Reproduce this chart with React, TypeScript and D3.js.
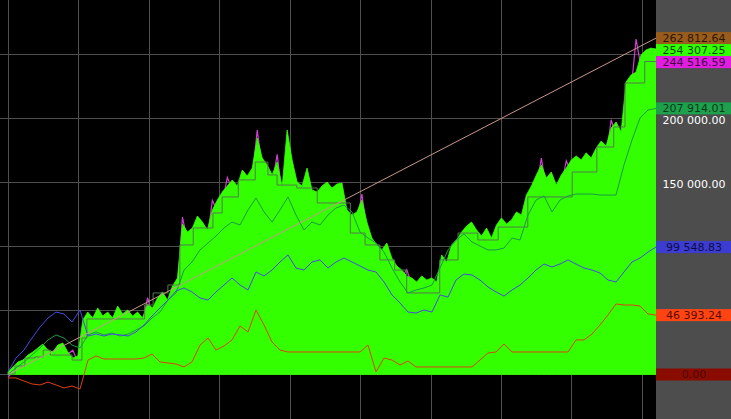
import React from 'react';
import * as d3 from 'd3';

// ---------- data ----------
const SPAN = 9.2; // time span in grid periods
const gridPeriods = [0, 1, 2, 3, 4, 5, 6, 7, 8, 9];
const valueTicks = [0, 50000, 100000, 150000, 200000, 250000];

// green equity area (uniformly spaced over the span)
const equityValues = [
  2000, 5900, 9800, 11300, 15200, 17600, 20700, 23800, 19100, 17600,
  23000, 24600, 17600, 12900, 14500, 42600, 48800, 44100, 52000, 45700,
  48800, 44100, 53500, 47300, 50400, 45700, 48800, 44100, 55100, 52000,
  59800, 64500, 58200, 69100, 75400, 117600, 111300, 114500, 123800, 119100,
  112900, 128500, 136300, 142600, 147300, 152000, 147300, 159800, 155100, 161300,
  184800, 169100, 163700, 155900, 166000, 146500, 191000, 167600, 150400, 147300,
  161300, 144100, 142600, 147300, 150400, 145700, 148800, 149600, 128500, 124600,
  127000, 136300, 119100, 106600, 101200, 97300, 102700, 91000, 84800, 81600,
  77000, 75400, 72300, 77000, 73800, 75400, 72300, 93400, 87900, 101200,
  105100, 111300, 116000, 119100, 112900, 108200, 114500, 106600, 116800, 122300,
  117600, 120700, 127000, 124600, 140200, 147300, 155900, 163700, 153500, 158200,
  148000, 155900, 161300, 167600, 170700, 167600, 173200, 169100, 176900, 182400,
  178500, 192600, 197300, 189500, 228500, 234000, 236300, 249600, 253500, 255000,
  254307.25,
];

// magenta line (mostly hidden under the green area, same spacing as equity)
const peakValues = [
  -2000, 2000, 5000, 7000, 10000, 13000, 15000, 17000, 14000, 13000,
  17000, 19000, 16000, 19000, 10000, 36000, 42000, 39000, 44000, 40000,
  42000, 39000, 45000, 41000, 43000, 40000, 42000, 40000, 60000, 46000,
  52000, 56000, 52000, 60000, 66000, 123000, 104000, 106000, 115000, 111000,
  106000, 136000, 128000, 134000, 154000, 144000, 140000, 151000, 147000, 153000,
  191000, 161000, 156000, 149000, 172000, 139000, 180000, 159000, 143000, 140000,
  153000, 137000, 135000, 140000, 143000, 138000, 141000, 141000, 121000, 118000,
  120000, 141000, 112000, 100000, 95000, 91000, 96000, 85000, 79000, 76000,
  82000, 70000, 67000, 71000, 68000, 70000, 67000, 86000, 81000, 94000,
  98000, 104000, 108000, 111000, 106000, 101000, 107000, 100000, 109000, 114000,
  110000, 113000, 119000, 117000, 131000, 138000, 146000, 169000, 144000, 149000,
  140000, 147000, 167000, 158000, 161000, 158000, 163000, 160000, 167000, 172000,
  169000, 199000, 186000, 180000, 216000, 222000, 262000, 240000, 243000, 244000,
  244516.59,
];

// stepped line: [period, value]
const stepPoints: [number, number][] = [
  [0, 400], [0.1, 6600], [0.24, 12900], [0.38, 13700], [0.5, 19100], [0.6, 15200],
  [0.91, 11300], [1.05, 28500], [1.12, 43400], [1.94, 54300], [2.06, 63700],
  [2.27, 69900], [2.44, 101200], [2.63, 114500], [2.91, 126200], [3.04, 138700],
  [3.27, 152000], [3.51, 166000], [3.69, 155900], [3.82, 148000], [4.1, 145700],
  [4.39, 134000], [4.86, 110500], [5.07, 101200], [5.28, 89500], [5.49, 81600],
  [5.66, 63700], [6.13, 89500], [6.39, 110500], [6.67, 105100], [6.96, 115200],
  [7.38, 138700], [8.01, 158200], [8.36, 177700], [8.6, 193400], [8.76, 227700],
  [9.04, 244516.59], [9.2, 244516.59],
];

// dark green line
const trendValues = [
  0, 5100, 9800, 15200, 20700, 27000, 30900, 28500, 23000, 20700,
  30900, 33200, 30900, 32400, 30100, 31600, 34800, 37900, 44100, 48800,
  58200, 63700, 81600, 87900, 97300, 102700, 108200, 114500, 119100, 116800,
  128500, 137900, 127000, 119100, 128500, 138700, 124600, 112900, 119100, 116800,
  124600, 130100, 132400, 127000, 111300, 106600, 102700, 95700, 83200, 72300,
  63700, 66000, 67600, 69900, 83200, 97300, 105100, 109800, 103500, 100400,
  97300, 97300, 98800, 106600, 105100, 124600, 136300, 139500, 127000, 136300,
  139500, 141000, 141000, 141000, 140200, 140200, 140200, 163700, 183200, 200400,
  206600, 207914.01,
];

// blue line
const blueValues = [
  2000, 12900, 19100, 28500, 37100, 44100, 48800, 47300, 41000, 50400,
  30100, 31600, 30100, 31600, 30900, 30100, 33200, 38700, 45700, 52000,
  58200, 65200, 67600, 64500, 59800, 58200, 64500, 69900, 75400, 69900,
  66000, 80100, 77000, 81600, 87900, 93400, 83200, 81600, 87900, 89500,
  83200, 87900, 91000, 87900, 84800, 81600, 80100, 72300, 62100, 55900,
  48800, 48000, 50400, 48800, 62100, 60500, 73800, 78500, 77700, 73800,
  68400, 64500, 61300, 66000, 69900, 75400, 81600, 86300, 84000, 86300,
  89500, 86300, 83200, 81600, 79300, 73800, 72300, 80100, 87900, 91000,
  95700, 99548.83,
];

// red line
const redValues = [
  -2700, -2700, -5100, -7400, -8200, -5900, -8200, -10500, -9000, -11300,
  11300, 14500, 12100, 12100, 12100, 12100, 12100, 12900, 16000, 9800,
  9000, 8200, 5900, 9800, 23000, 28500, 19100, 22300, 27000, 37900,
  33200, 50400, 38700, 25400, 19100, 17600, 17600, 17600, 17600, 17600,
  17600, 17600, 17600, 17600, 17600, 23000, 2000, 12900, 11300, 7400,
  10500, 5900, 5900, 5900, 5900, 5900, 5900, 5900, 5900, 11300,
  16800, 17600, 23800, 17600, 17600, 17600, 17600, 17600, 17600, 17600,
  17600, 27000, 27000, 31600, 38700, 46500, 55100, 54300, 54300, 53500,
  47300, 46393.24,
];

// straight reference line: start and end value
const diagonalValues = [0, 262812.64];
const baselineValue = 0;

// ---------- styles ----------
const BG = '#000000';
const GRID = '#4f4f4f';
const PANEL = '#4d4d4d';
const GREEN = '#33ff00';

const fmtLocale = d3.formatLocale({ decimal: '.', thousands: ' ', grouping: [3], currency: ['', ''] });
const fmt = fmtLocale.format(',.2f');

export default function App() {
  const W = 731;
  const H = 419;
  const plotRight = 656;
  const x = d3.scaleLinear().domain([0, SPAN]).range([8, plotRight]);
  const y = d3.scaleLinear().domain([0, 250000]).range([374.5, 54.5]);
  const tOf = (i: number, n: number) => (i / (n - 1)) * SPAN;

  const lineOf = (vals: number[]) =>
    d3
      .line<number>()
      .x((_, i) => x(tOf(i, vals.length)))
      .y((d) => y(d))(vals) || '';

  const areaPath =
    d3
      .area<number>()
      .x((_, i) => x(tOf(i, equityValues.length)))
      .y0(y(0))
      .y1((d) => y(d))(equityValues) || '';

  const stepPath =
    d3
      .line<[number, number]>()
      .x((d) => x(d[0]))
      .y((d) => y(d[1]))
      .curve(d3.curveStepAfter)(stepPoints) || '';

  const labelDefs = [
    { v: baselineValue, bg: '#8a0c00', fg: '#4e0600' },
    { v: redValues[redValues.length - 1], bg: '#ff4414', fg: '#5a0c00' },
    { v: blueValues[blueValues.length - 1], bg: '#3c3cd0', fg: '#0c0c48' },
    { v: trendValues[trendValues.length - 1], bg: '#1ea04c', fg: '#073a18' },
    { v: diagonalValues[1], bg: '#9a5c1c', fg: '#2a1605' },
    { v: equityValues[equityValues.length - 1], bg: GREEN, fg: '#0b4a00' },
    { v: peakValues[peakValues.length - 1], bg: '#e01ee0', fg: '#4a064a' },
  ];

  // place labels top-down, keeping a minimal gap between them
  const BOX = 12;
  const sorted = labelDefs
    .map((l) => ({ ...l, cy: y(l.v) }))
    .sort((a, b) => a.cy - b.cy);
  for (let i = 1; i < sorted.length; i++) {
    if (sorted[i].cy - sorted[i - 1].cy < BOX) sorted[i].cy = sorted[i - 1].cy + BOX;
  }

  // axis tick labels that are not covered by a value label
  const TICK_SHIFT = 1.5;
  const visibleTicks = valueTicks.filter((t) =>
    sorted.every((l) => Math.abs(y(t) + TICK_SHIFT - l.cy) > 9)
  );

  const font = '"DejaVu Sans", Verdana, sans-serif';

  return (
    <svg
      width={W}
      height={H}
      style={{ position: 'absolute', left: 0, top: 0, display: 'block' }}
    >
      <rect x={0} y={0} width={W} height={H} fill={BG} />
      {/* grid */}
      <g shapeRendering="crispEdges">
        {gridPeriods.map((p) => (
          <line
            key={'v' + p}
            x1={Math.round(x(p)) + 0.5}
            x2={Math.round(x(p)) + 0.5}
            y1={0}
            y2={H}
            stroke={GRID}
          />
        ))}
        {valueTicks.map((v) => (
          <line
            key={'h' + v}
            x1={0}
            x2={plotRight}
            y1={Math.round(y(v) - 0.5) + 0.5}
            y2={Math.round(y(v) - 0.5) + 0.5}
            stroke={GRID}
          />
        ))}
      </g>
      {/* magenta under green */}
      <path d={lineOf(peakValues)} fill="none" stroke="#d040d0" strokeWidth={1.2} />
      <path d={areaPath} fill={GREEN} stroke={GREEN} strokeWidth={0.8} />
      <path d={stepPath} fill="none" stroke="#557a50" strokeWidth={1} />
      <path d={lineOf(trendValues)} fill="none" stroke="#1a9a48" strokeWidth={1} />
      <path d={lineOf(blueValues)} fill="none" stroke="#4848e8" strokeWidth={1} />
      <path d={lineOf(redValues)} fill="none" stroke="#e04010" strokeWidth={1} />
      <line
        x1={x(0)}
        y1={y(diagonalValues[0])}
        x2={x(SPAN)}
        y2={y(diagonalValues[1])}
        stroke="#c8968c"
        strokeWidth={1}
      />
      {/* right panel */}
      <rect x={plotRight} y={0} width={W - plotRight} height={H} fill={PANEL} />
      {visibleTicks.map((v) => (
        <text
          key={'t' + v}
          x={694}
          y={y(v) + TICK_SHIFT}
          dy="0.36em"
          textAnchor="middle"
          fill="#ffffff"
          fontFamily={font}
          fontSize={11}
        >
          {fmt(v)}
        </text>
      ))}
      {sorted.map((l, i) => (
        <g key={'l' + i}>
          <rect x={plotRight} y={l.cy - BOX / 2} width={W - plotRight} height={BOX} fill={l.bg} />
          <text
            x={694}
            y={l.cy}
            dy="0.36em"
            textAnchor="middle"
            fill={l.fg}
            fontFamily={font}
            fontSize={11}
          >
            {fmt(l.v)}
          </text>
        </g>
      ))}
    </svg>
  );
}
